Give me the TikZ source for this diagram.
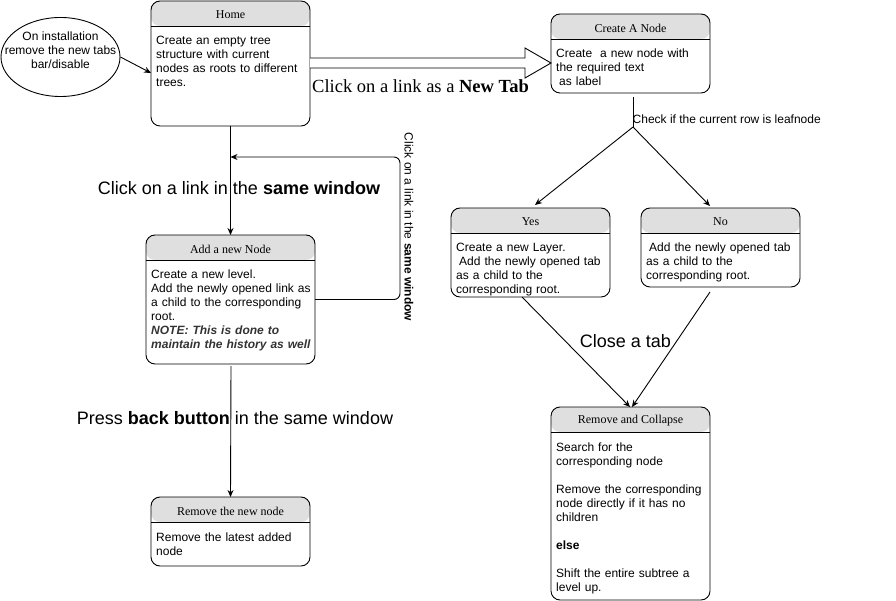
\documentclass[tikz,border=0pt]{standalone}
\usepackage{fontspec}
\setmainfont{Liberation Serif}
\setsansfont{Liberation Sans}
\usetikzlibrary{arrows.meta,calc,shapes.geometric}

\tikzset{
 box/.style={draw, line width=0.9pt, rounded corners=9pt, inner sep=0pt, outer sep=0pt, anchor=north west, fill=white},
 hdrtext/.style={font=\rmfamily\fontsize{12}{14}\selectfont, inner sep=0pt},
 bodytext/.style={font=\sffamily\fontsize{12}{14}\selectfont, anchor=base west, align=left, inner sep=0pt},
 arr/.style={-{Stealth[length=7pt,width=6pt]}, line width=0.9pt},
 conn/.style={line width=0.9pt},
 biglabel/.style={font=\sffamily\fontsize{18}{21}\selectfont, inner sep=0pt},
 smalllabel/.style={font=\sffamily\fontsize{12}{14}\selectfont, inner sep=0pt},
 hdrfill/.style={fill=gray!25},
}

\newcommand{\flowbox}[7]{%
 \node[box, minimum width=#4pt, minimum height=#5pt,
   path picture={\fill[hdrfill] (path picture bounding box.north west) rectangle ([yshift=-25pt]path picture bounding box.north east);
   \draw[line width=0.9pt] ([yshift=-25pt]path picture bounding box.north west) -- ([yshift=-25pt]path picture bounding box.north east);}]
   (#1) at (#2,#3) {};
 \pgfmathsetmacro\flowtw{#4-6}%
 \node[hdrtext] (#1-t) at ([yshift=-14pt]#1.north) {#6};
 \node[bodytext, text width=\flowtw pt] (#1-b) at ([xshift=5pt,yshift=-44pt]#1.north west) {#7};
}

\begin{document}
\begin{tikzpicture}[x=1pt,y=-1pt]
\useasboundingbox (0,0) rectangle (896,601);

% ellipse
\node[draw, ellipse, line width=0.9pt, minimum width=119pt, minimum height=79pt, inner sep=0pt] (inst) at (60.5,57) {};
\node[smalllabel, align=center] (inst-t) at (60.5,50) {On installation\\remove the new tabs\\bar/disable};

\flowbox{home}{151}{1}{159}{125}{Home}{Create an empty tree\\structure with current\\nodes as roots to different\\trees.}
\flowbox{create}{551}{14}{159}{79}{Create A Node}{Create\ \ a new node with\\the required text\\\hspace*{3pt}as label}
\flowbox{add}{146}{235}{169}{129}{Add a new Node}{Create a new level.\\Add the newly opened link as\\a child to the corresponding\\root.\\{\color{black!80}\textbf{\textit{NOTE: This is done to}}}\\{\color{black!80}\textbf{\textit{maintain the history as well}}}}
\flowbox{yes}{451}{208}{159}{89}{Yes}{Create a new Layer.\\\hspace*{3pt}Add the newly opened tab\\as a child to the\\corresponding root.}
\flowbox{no}{641}{208}{159}{79}{No}{\hspace*{3pt}Add the newly opened tab\\as a child to the\\corresponding root.}
\flowbox{rc}{551}{407}{159}{193}{Remove and Collapse}{Search for the\\corresponding node\\[14pt]Remove the corresponding\\node directly if it has no\\children\\[14pt]\textbf{else}\\[14pt]Shift the entire subtree a\\level up.}
\flowbox{rnn}{151}{497}{159}{69}{Remove the new node}{Remove the latest added\\node}

% ellipse -> home
\draw[arr] (inst.east) -- ([yshift=-9.5pt]home.west);

% big hollow arrow
\coordinate (bs) at ([yshift=0.5pt]home.east);
\coordinate (bt) at ([yshift=-9.5pt]create.west);
\draw[conn, fill=white] ($(bs)+(0,-5)$) -- ($(bt)+(-26,-5)$) -- ($(bt)+(-26,-15)$) -- (bt) -- ($(bt)+(-26,15)$) -- ($(bt)+(-26,5)$) -- ($(bs)+(0,5)$);
\node[font=\rmfamily\fontsize{18.5}{21}\selectfont, inner sep=0pt, anchor=base] (lnewtab) at (420.5,93) {Click on a link as a \textbf{New Tab}};

% home -> add
\draw[arr] (home.south) -- (add.north);
\node[biglabel, anchor=base] (lsame) at (239,194.5) {Click on a link in the \textbf{same window}};

% loop back
\coordinate (lp) at ($(home.south)+(0,31)$);
\draw[arr, rounded corners=6pt] (add.east) -- ++(85,0) |- (lp);
\node[smalllabel, rotate=-90] (lvert) at (409,227) {Click on a link in the \textbf{same window}};

% add -> remove new node
\draw[arr] ($(add.south)+(0.5,2)$) -- (rnn.north);
\node[biglabel, anchor=base] (lback) at (235,424.5) {Press \textbf{back button} in the same window};

% create -> split
\coordinate (cs) at ($(create.south)+(2.5,4)$);
\coordinate (sp) at ($(cs)+(0,30)$);
\draw[conn] (cs) -- (sp);
\node[smalllabel, anchor=base west] (lcheck) at (632.5,123.5) {Check if the current row is leafnode};
\draw[arr] (sp) -- ($(yes.north)+(4.5,-3)$);
\draw[arr] (sp) -- ($(no.north)+(-10.5,-2)$);

% yes/no -> remove and collapse
\draw[arr] ($(yes.south)+(-8.5,0)$) -- ($(rc.north)+(-0.5,0)$);
\draw[arr] ($(no.south)+(-10.5,5)$) -- ($(rc.north)+(1.5,0)$);
\node[biglabel, anchor=base] (lclose) at (625.5,347) {Close a tab};
\end{tikzpicture}
\end{document}
